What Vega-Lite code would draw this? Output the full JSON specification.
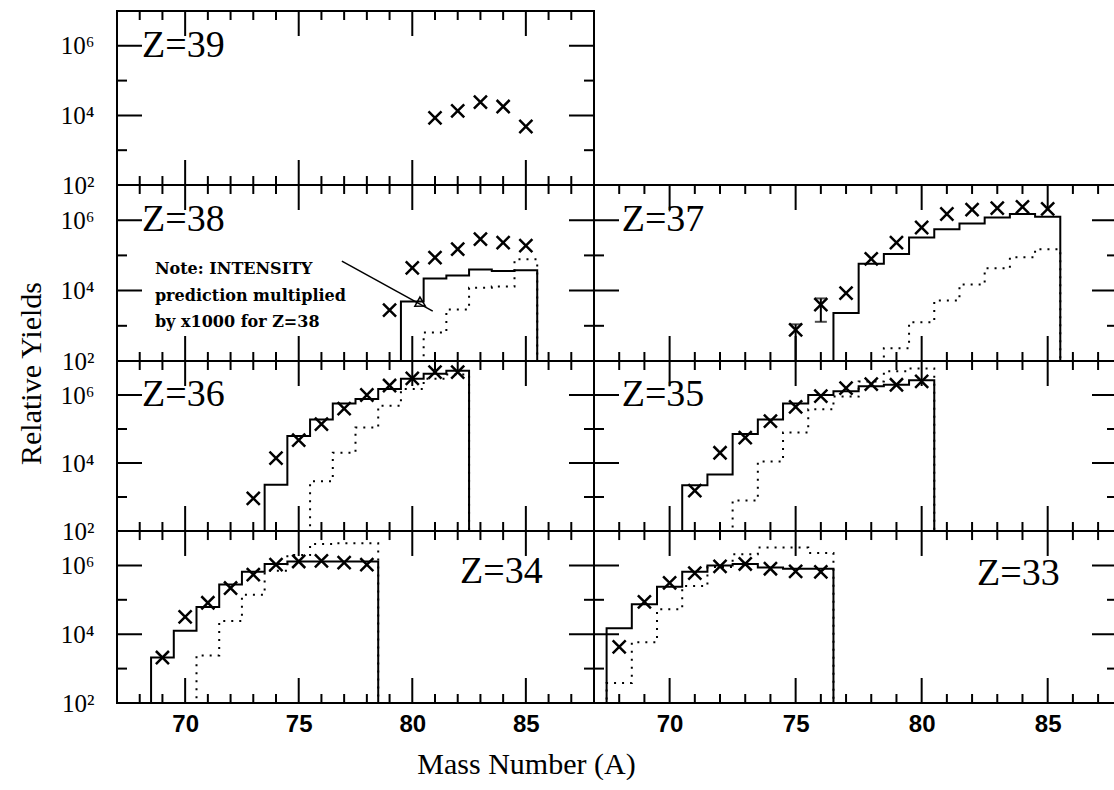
{
"$schema": "https://vega.github.io/schema/vega-lite/v6.json",
"usermeta": {"embedOptions": {"actions": false}},
"background": "white",
"padding": {"left": 15, "top": 9, "right": 0, "bottom": 0},
"config": {"view": {"stroke": "black", "strokeWidth": 2}, "concat": {"spacing": 0}, "font": "Liberation Serif",
 "axis": {"ticks": false, "grid": false, "domain": false, "title": null, "labelOverlap": false, "labelFlush": false, "labelColor": "black"}},
"datasets": {
"d": [
{"Z":39,"k":"exp","A":81,"y":8500},{"Z":39,"k":"exp","A":82,"y":13500},{"Z":39,"k":"exp","A":83,"y":24000},{"Z":39,"k":"exp","A":84,"y":18000},{"Z":39,"k":"exp","A":85,"y":4800},
{"Z":38,"k":"exp","A":79,"y":2800},{"Z":38,"k":"exp","A":80,"y":44000},{"Z":38,"k":"exp","A":81,"y":87000},{"Z":38,"k":"exp","A":82,"y":150000},{"Z":38,"k":"exp","A":83,"y":290000},{"Z":38,"k":"exp","A":84,"y":230000},{"Z":38,"k":"exp","A":85,"y":190000},
{"Z":38,"k":"solid","A":79,"y":100},{"Z":38,"k":"solid","A":80,"y":4900},{"Z":38,"k":"solid","A":81,"y":22000},{"Z":38,"k":"solid","A":82,"y":27000},{"Z":38,"k":"solid","A":83,"y":40000},{"Z":38,"k":"solid","A":84,"y":36000},{"Z":38,"k":"solid","A":85,"y":38000},{"Z":38,"k":"solid","A":86,"y":100},
{"Z":38,"k":"dot","A":80,"y":100},{"Z":38,"k":"dot","A":81,"y":640},{"Z":38,"k":"dot","A":82,"y":2900},{"Z":38,"k":"dot","A":83,"y":12000},{"Z":38,"k":"dot","A":84,"y":13000},{"Z":38,"k":"dot","A":85,"y":78000},{"Z":38,"k":"dot","A":86,"y":100},
{"Z":37,"k":"exp","A":75,"y":770},{"Z":37,"k":"exp","A":76,"y":4000},{"Z":37,"k":"exp","A":77,"y":8500},{"Z":37,"k":"exp","A":78,"y":80000},{"Z":37,"k":"exp","A":79,"y":230000},{"Z":37,"k":"exp","A":80,"y":620000},{"Z":37,"k":"exp","A":81,"y":1500000},{"Z":37,"k":"exp","A":82,"y":2000000},{"Z":37,"k":"exp","A":83,"y":2200000},{"Z":37,"k":"exp","A":84,"y":2400000},{"Z":37,"k":"exp","A":85,"y":2100000},
{"Z":37,"k":"solid","A":76,"y":100},{"Z":37,"k":"solid","A":77,"y":2300},{"Z":37,"k":"solid","A":78,"y":58000},{"Z":37,"k":"solid","A":79,"y":110000},{"Z":37,"k":"solid","A":80,"y":320000},{"Z":37,"k":"solid","A":81,"y":550000},{"Z":37,"k":"solid","A":82,"y":800000},{"Z":37,"k":"solid","A":83,"y":1200000},{"Z":37,"k":"solid","A":84,"y":1500000},{"Z":37,"k":"solid","A":85,"y":1260000},{"Z":37,"k":"solid","A":86,"y":100},
{"Z":37,"k":"dot","A":78,"y":100},{"Z":37,"k":"dot","A":79,"y":230},{"Z":37,"k":"dot","A":80,"y":1270},{"Z":37,"k":"dot","A":81,"y":5200},{"Z":37,"k":"dot","A":82,"y":15000},{"Z":37,"k":"dot","A":83,"y":43000},{"Z":37,"k":"dot","A":84,"y":89000},{"Z":37,"k":"dot","A":85,"y":150000},{"Z":37,"k":"dot","A":86,"y":100},
{"Z":36,"k":"exp","A":73,"y":910},{"Z":36,"k":"exp","A":74,"y":14000},{"Z":36,"k":"exp","A":75,"y":47000},{"Z":36,"k":"exp","A":76,"y":140000},{"Z":36,"k":"exp","A":77,"y":400000},{"Z":36,"k":"exp","A":78,"y":1000000},{"Z":36,"k":"exp","A":79,"y":1900000},{"Z":36,"k":"exp","A":80,"y":3100000},{"Z":36,"k":"exp","A":81,"y":4700000},{"Z":36,"k":"exp","A":82,"y":4700000},
{"Z":36,"k":"solid","A":73,"y":100},{"Z":36,"k":"solid","A":74,"y":2300},{"Z":36,"k":"solid","A":75,"y":62000},{"Z":36,"k":"solid","A":76,"y":190000},{"Z":36,"k":"solid","A":77,"y":560000},{"Z":36,"k":"solid","A":78,"y":760000},{"Z":36,"k":"solid","A":79,"y":1500000},{"Z":36,"k":"solid","A":80,"y":3000000},{"Z":36,"k":"solid","A":81,"y":4200000},{"Z":36,"k":"solid","A":82,"y":5200000},{"Z":36,"k":"solid","A":83,"y":100},
{"Z":36,"k":"dot","A":75,"y":100},{"Z":36,"k":"dot","A":76,"y":2900},{"Z":36,"k":"dot","A":77,"y":20000},{"Z":36,"k":"dot","A":78,"y":110000},{"Z":36,"k":"dot","A":79,"y":480000},{"Z":36,"k":"dot","A":80,"y":1500000},{"Z":36,"k":"dot","A":81,"y":3000000},{"Z":36,"k":"dot","A":82,"y":4000000},{"Z":36,"k":"dot","A":83,"y":100},
{"Z":35,"k":"exp","A":71,"y":1550},{"Z":35,"k":"exp","A":72,"y":20000},{"Z":35,"k":"exp","A":73,"y":56000},{"Z":35,"k":"exp","A":74,"y":170000},{"Z":35,"k":"exp","A":75,"y":450000},{"Z":35,"k":"exp","A":76,"y":930000},{"Z":35,"k":"exp","A":77,"y":1600000},{"Z":35,"k":"exp","A":78,"y":2100000},{"Z":35,"k":"exp","A":79,"y":2000000},{"Z":35,"k":"exp","A":80,"y":2500000},
{"Z":35,"k":"solid","A":70,"y":100},{"Z":35,"k":"solid","A":71,"y":2200},{"Z":35,"k":"solid","A":72,"y":4600},{"Z":35,"k":"solid","A":73,"y":71000},{"Z":35,"k":"solid","A":74,"y":190000},{"Z":35,"k":"solid","A":75,"y":560000},{"Z":35,"k":"solid","A":76,"y":1000000},{"Z":35,"k":"solid","A":77,"y":1300000},{"Z":35,"k":"solid","A":78,"y":1800000},{"Z":35,"k":"solid","A":79,"y":2000000},{"Z":35,"k":"solid","A":80,"y":2700000},{"Z":35,"k":"solid","A":81,"y":100},
{"Z":35,"k":"dot","A":72,"y":100},{"Z":35,"k":"dot","A":73,"y":790},{"Z":35,"k":"dot","A":74,"y":11000},{"Z":35,"k":"dot","A":75,"y":79000},{"Z":35,"k":"dot","A":76,"y":380000},{"Z":35,"k":"dot","A":77,"y":900000},{"Z":35,"k":"dot","A":78,"y":2500000},{"Z":35,"k":"dot","A":79,"y":5000000},{"Z":35,"k":"dot","A":80,"y":6000000},{"Z":35,"k":"dot","A":81,"y":100},
{"Z":34,"k":"exp","A":69,"y":2100},{"Z":34,"k":"exp","A":70,"y":32000},{"Z":34,"k":"exp","A":71,"y":82000},{"Z":34,"k":"exp","A":72,"y":220000},{"Z":34,"k":"exp","A":73,"y":540000},{"Z":34,"k":"exp","A":74,"y":1050000},{"Z":34,"k":"exp","A":75,"y":1300000},{"Z":34,"k":"exp","A":76,"y":1350000},{"Z":34,"k":"exp","A":77,"y":1200000},{"Z":34,"k":"exp","A":78,"y":1050000},
{"Z":34,"k":"solid","A":68,"y":100},{"Z":34,"k":"solid","A":69,"y":2100},{"Z":34,"k":"solid","A":70,"y":12500},{"Z":34,"k":"solid","A":71,"y":62000},{"Z":34,"k":"solid","A":72,"y":280000},{"Z":34,"k":"solid","A":73,"y":650000},{"Z":34,"k":"solid","A":74,"y":1100000},{"Z":34,"k":"solid","A":75,"y":1300000},{"Z":34,"k":"solid","A":76,"y":1300000},{"Z":34,"k":"solid","A":77,"y":1300000},{"Z":34,"k":"solid","A":78,"y":1300000},{"Z":34,"k":"solid","A":79,"y":100},
{"Z":34,"k":"dot","A":70,"y":100},{"Z":34,"k":"dot","A":71,"y":2400},{"Z":34,"k":"dot","A":72,"y":24000},{"Z":34,"k":"dot","A":73,"y":140000},{"Z":34,"k":"dot","A":74,"y":700000},{"Z":34,"k":"dot","A":75,"y":2000000},{"Z":34,"k":"dot","A":76,"y":4200000},{"Z":34,"k":"dot","A":77,"y":4400000},{"Z":34,"k":"dot","A":78,"y":4400000},{"Z":34,"k":"dot","A":79,"y":100},
{"Z":33,"k":"exp","A":68,"y":4300},{"Z":33,"k":"exp","A":69,"y":87000},{"Z":33,"k":"exp","A":70,"y":310000},{"Z":33,"k":"exp","A":71,"y":600000},{"Z":33,"k":"exp","A":72,"y":940000},{"Z":33,"k":"exp","A":73,"y":1100000},{"Z":33,"k":"exp","A":74,"y":800000},{"Z":33,"k":"exp","A":75,"y":670000},{"Z":33,"k":"exp","A":76,"y":650000},
{"Z":33,"k":"solid","A":67,"y":100},{"Z":33,"k":"solid","A":68,"y":15000},{"Z":33,"k":"solid","A":69,"y":74000},{"Z":33,"k":"solid","A":70,"y":240000},{"Z":33,"k":"solid","A":71,"y":650000},{"Z":33,"k":"solid","A":72,"y":1000000},{"Z":33,"k":"solid","A":73,"y":1100000},{"Z":33,"k":"solid","A":74,"y":870000},{"Z":33,"k":"solid","A":75,"y":800000},{"Z":33,"k":"solid","A":76,"y":800000},{"Z":33,"k":"solid","A":77,"y":100},
{"Z":33,"k":"dot","A":67,"y":100},{"Z":33,"k":"dot","A":68,"y":380},{"Z":33,"k":"dot","A":69,"y":5800},{"Z":33,"k":"dot","A":70,"y":53000},{"Z":33,"k":"dot","A":71,"y":250000},{"Z":33,"k":"dot","A":72,"y":900000},{"Z":33,"k":"dot","A":73,"y":2100000},{"Z":33,"k":"dot","A":74,"y":3300000},{"Z":33,"k":"dot","A":75,"y":3300000},{"Z":33,"k":"dot","A":76,"y":2300000},{"Z":33,"k":"dot","A":77,"y":100}
],
"n": [
{"Z":39,"k":"z","A":68.1,"y":1000000,"t":"Z=39"},
{"Z":38,"k":"z","A":68.1,"y":1000000,"t":"Z=38"},
{"Z":37,"k":"z","A":68.1,"y":1000000,"t":"Z=37"},
{"Z":36,"k":"z","A":68.1,"y":1000000,"t":"Z=36"},
{"Z":35,"k":"z","A":68.1,"y":1000000,"t":"Z=35"},
{"Z":34,"k":"z","A":82.1,"y":630000,"t":"Z=34"},
{"Z":33,"k":"z","A":82.2,"y":560000,"t":"Z=33"},
{"Z":38,"k":"note","A":68.67,"y":41000,"t":"Note: INTENSITY"},
{"Z":38,"k":"note","A":68.67,"y":7100,"t":"prediction multiplied"},
{"Z":38,"k":"note","A":68.67,"y":1290,"t":"by x1000 for Z=38"}
],
"xt": [{"A":68,"m":0},{"A":69,"m":0},{"A":70,"m":1},{"A":71,"m":0},{"A":72,"m":0},{"A":73,"m":0},{"A":74,"m":0},{"A":75,"m":1},{"A":76,"m":0},{"A":77,"m":0},{"A":78,"m":0},{"A":79,"m":0},{"A":80,"m":1},{"A":81,"m":0},{"A":82,"m":0},{"A":83,"m":0},{"A":84,"m":0},{"A":85,"m":1},{"A":86,"m":0},{"A":87,"m":0}],
"yt": [{"y":1000,"m":0},{"y":10000,"m":1},{"y":100000,"m":0},{"y":1000000,"m":1}],
"ar": [{"A":76.9,"y":69000,"A2":80.9,"y2":2600}],
"ah": [{"A":80.4,"y":4200}],
"err": [{"Z":37,"A":75,"lo":100,"hi":1100},{"Z":37,"A":76,"lo":1300,"hi":6000}]
},
"columns": 2,
"spacing": 0,
"bounds": "flush",
"concat": [
 {"width": 477, "height": 174,
  "layer": [
   {"data":{"name":"d"},"transform":[{"filter":"datum.Z==39 && datum.k=='exp'"}],
    "mark":{"type":"point","shape":"M-1,-1L1,1M-1,1L1,-1","filled":false,"stroke":"black","strokeWidth":2.5,"size":170,"opacity":1},
    "encoding":{
     "x":{"field":"A","type":"quantitative","scale":{"domain":[67,88],"nice":false,"zero":false},"axis":null},
     "y":{"field":"y","type":"quantitative","scale":{"type":"log","domain":[100,10000000],"nice":false},"axis":{"orient":"left","values":[100,10000,1000000],"labelExpr":"datum.value == 100 ? '10²' : datum.value == 10000 ? '10⁴' : '10⁶'","labelFont":"Liberation Serif","labelFontSize":25,"labelPadding":23,"labelBaseline":"middle"}}}},
   {"data":{"name":"n"},"transform":[{"filter":"datum.Z==39 && datum.k=='z'"}],
    "mark":{"type":"text","align":"left","baseline":"middle","font":"Liberation Serif","fontSize":38,"color":"black"},
    "encoding":{"x":{"field":"A","type":"quantitative"},"y":{"field":"y","type":"quantitative"},"text":{"field":"t"}}},
   {"data":{"name":"xt"},"transform":[{"filter":"datum.m==1"}],"mark":{"type":"rule","color":"black","strokeWidth":2},
    "encoding":{"x":{"field":"A","type":"quantitative"},"y":{"datum":100},"y2":{"datum":523}}},
   {"data":{"name":"xt"},"transform":[{"filter":"datum.m==0"}],"mark":{"type":"rule","color":"black","strokeWidth":2},
    "encoding":{"x":{"field":"A","type":"quantitative"},"y":{"datum":100},"y2":{"datum":181}}},
   {"data":{"name":"xt"},"transform":[{"filter":"datum.m==1"}],"mark":{"type":"rule","color":"black","strokeWidth":2},
    "encoding":{"x":{"field":"A","type":"quantitative"},"y":{"datum":10000000},"y2":{"datum":1910000}}},
   {"data":{"name":"xt"},"transform":[{"filter":"datum.m==0"}],"mark":{"type":"rule","color":"black","strokeWidth":2},
    "encoding":{"x":{"field":"A","type":"quantitative"},"y":{"datum":10000000},"y2":{"datum":5510000}}},
   {"data":{"name":"yt"},"mark":{"type":"tick","orient":"horizontal","clip":true,"color":"black","thickness":2,"opacity":1},
    "encoding":{"x":{"datum":67},"y":{"field":"y","type":"quantitative"},"size":{"condition":{"test":"datum.m == 1","value":50},"value":20}}},
   {"data":{"name":"yt"},"mark":{"type":"tick","orient":"horizontal","clip":true,"color":"black","thickness":2,"opacity":1},
    "encoding":{"x":{"datum":88},"y":{"field":"y","type":"quantitative"},"size":{"condition":{"test":"datum.m == 1","value":50},"value":20}}}
  ]},
 {"width": 523, "height": 174, "view": {"stroke": null},
  "data": {"values": [{}]},
  "mark": {"type": "text", "text": ""},
  "encoding": {}},
 {"width": 477, "height": 176,
  "layer": [
   {"data":{"name":"d"},"transform":[{"filter":"datum.Z==38 && datum.k=='solid'"}],
    "mark":{"type":"line","interpolate":"step","color":"black","strokeWidth":2},
    "encoding":{
     "x":{"field":"A","type":"quantitative","scale":{"domain":[67,88],"nice":false,"zero":false},"axis":null},
     "y":{"field":"y","type":"quantitative","scale":{"type":"log","domain":[100,10000000],"nice":false},"axis":{"orient":"left","values":[100,10000,1000000],"labelExpr":"datum.value == 100 ? '10²' : datum.value == 10000 ? '10⁴' : '10⁶'","labelFont":"Liberation Serif","labelFontSize":25,"labelPadding":23,"labelBaseline":"middle",
       "title":"Relative Yields","titleFont":"Liberation Serif","titleFontSize":30,"titleFontWeight":"normal","titleColor":"black","titleX":-86,"titleY":188,"titleAngle":270,"titleAlign":"center","titleBaseline":"middle"}}}},
   {"data":{"name":"d"},"transform":[{"filter":"datum.Z==38 && datum.k=='dot'"}],
    "mark":{"type":"line","interpolate":"step","color":"black","strokeWidth":2,"strokeDash":[2,6]},
    "encoding":{"x":{"field":"A","type":"quantitative"},"y":{"field":"y","type":"quantitative"}}},
   {"data":{"name":"d"},"transform":[{"filter":"datum.Z==38 && datum.k=='exp'"}],
    "mark":{"type":"point","shape":"M-1,-1L1,1M-1,1L1,-1","filled":false,"stroke":"black","strokeWidth":2.5,"size":170,"opacity":1},
    "encoding":{"x":{"field":"A","type":"quantitative"},"y":{"field":"y","type":"quantitative"}}},
   {"data":{"name":"n"},"transform":[{"filter":"datum.Z==38 && datum.k=='z'"}],
    "mark":{"type":"text","align":"left","baseline":"middle","font":"Liberation Serif","fontSize":38,"color":"black"},
    "encoding":{"x":{"field":"A","type":"quantitative"},"y":{"field":"y","type":"quantitative"},"text":{"field":"t"}}},
   {"data":{"name":"n"},"transform":[{"filter":"datum.Z==38 && datum.k=='note'"}],
    "mark":{"type":"text","align":"left","baseline":"middle","font":"DejaVu Serif","fontSize":16,"fontWeight":"bold","color":"black"},
    "encoding":{"x":{"field":"A","type":"quantitative"},"y":{"field":"y","type":"quantitative"},"text":{"field":"t"}}},
   {"data":{"name":"ar"},
    "mark":{"type":"rule","color":"black","strokeWidth":1.5},
    "encoding":{"x":{"field":"A","type":"quantitative"},"y":{"field":"y","type":"quantitative"},"x2":{"field":"A2"},"y2":{"field":"y2"}}},
   {"data":{"name":"ah"},
    "mark":{"type":"point","shape":"triangle-right","filled":false,"stroke":"black","strokeWidth":1.5,"size":110,"angle":29,"opacity":1},
    "encoding":{"x":{"field":"A","type":"quantitative"},"y":{"field":"y","type":"quantitative"}}},
   {"data":{"name":"xt"},"transform":[{"filter":"datum.m==1"}],"mark":{"type":"rule","color":"black","strokeWidth":2},
    "encoding":{"x":{"field":"A","type":"quantitative"},"y":{"datum":100},"y2":{"datum":513}}},
   {"data":{"name":"xt"},"transform":[{"filter":"datum.m==0"}],"mark":{"type":"rule","color":"black","strokeWidth":2},
    "encoding":{"x":{"field":"A","type":"quantitative"},"y":{"datum":100},"y2":{"datum":180}}},
   {"data":{"name":"xt"},"transform":[{"filter":"datum.m==1"}],"mark":{"type":"rule","color":"black","strokeWidth":2},
    "encoding":{"x":{"field":"A","type":"quantitative"},"y":{"datum":10000000},"y2":{"datum":1950000}}},
   {"data":{"name":"xt"},"transform":[{"filter":"datum.m==0"}],"mark":{"type":"rule","color":"black","strokeWidth":2},
    "encoding":{"x":{"field":"A","type":"quantitative"},"y":{"datum":10000000},"y2":{"datum":5560000}}},
   {"data":{"name":"yt"},"mark":{"type":"tick","orient":"horizontal","clip":true,"color":"black","thickness":2,"opacity":1},
    "encoding":{"x":{"datum":67},"y":{"field":"y","type":"quantitative"},"size":{"condition":{"test":"datum.m == 1","value":50},"value":20}}},
   {"data":{"name":"yt"},"mark":{"type":"tick","orient":"horizontal","clip":true,"color":"black","thickness":2,"opacity":1},
    "encoding":{"x":{"datum":88},"y":{"field":"y","type":"quantitative"},"size":{"condition":{"test":"datum.m == 1","value":50},"value":20}}}
  ]},
 {"width": 523, "height": 176,
  "layer": [
   {"data":{"name":"d"},"transform":[{"filter":"datum.Z==37 && datum.k=='solid'"}],
    "mark":{"type":"line","interpolate":"step","color":"black","strokeWidth":2},
    "encoding":{
     "x":{"field":"A","type":"quantitative","scale":{"domain":[67,87.75],"nice":false,"zero":false},"axis":null},
     "y":{"field":"y","type":"quantitative","scale":{"type":"log","domain":[100,10000000],"nice":false},"axis":null}}},
   {"data":{"name":"d"},"transform":[{"filter":"datum.Z==37 && datum.k=='dot'"}],
    "mark":{"type":"line","interpolate":"step","color":"black","strokeWidth":2,"strokeDash":[2,6]},
    "encoding":{"x":{"field":"A","type":"quantitative"},"y":{"field":"y","type":"quantitative"}}},
   {"data":{"name":"err"},"transform":[{"filter":"datum.Z==37"}],
    "mark":{"type":"errorbar","ticks":true,"thickness":2,"size":12,"color":"black"},
    "encoding":{"x":{"field":"A","type":"quantitative"},"y":{"field":"lo","type":"quantitative"},"y2":{"field":"hi"}}},
   {"data":{"name":"d"},"transform":[{"filter":"datum.Z==37 && datum.k=='exp'"}],
    "mark":{"type":"point","shape":"M-1,-1L1,1M-1,1L1,-1","filled":false,"stroke":"black","strokeWidth":2.5,"size":170,"opacity":1},
    "encoding":{"x":{"field":"A","type":"quantitative"},"y":{"field":"y","type":"quantitative"}}},
   {"data":{"name":"n"},"transform":[{"filter":"datum.Z==37 && datum.k=='z'"}],
    "mark":{"type":"text","align":"left","baseline":"middle","font":"Liberation Serif","fontSize":38,"color":"black"},
    "encoding":{"x":{"field":"A","type":"quantitative"},"y":{"field":"y","type":"quantitative"},"text":{"field":"t"}}},
   {"data":{"name":"xt"},"transform":[{"filter":"datum.m==1"}],"mark":{"type":"rule","color":"black","strokeWidth":2},
    "encoding":{"x":{"field":"A","type":"quantitative"},"y":{"datum":100},"y2":{"datum":513}}},
   {"data":{"name":"xt"},"transform":[{"filter":"datum.m==0"}],"mark":{"type":"rule","color":"black","strokeWidth":2},
    "encoding":{"x":{"field":"A","type":"quantitative"},"y":{"datum":100},"y2":{"datum":180}}},
   {"data":{"name":"xt"},"transform":[{"filter":"datum.m==1"}],"mark":{"type":"rule","color":"black","strokeWidth":2},
    "encoding":{"x":{"field":"A","type":"quantitative"},"y":{"datum":10000000},"y2":{"datum":1950000}}},
   {"data":{"name":"xt"},"transform":[{"filter":"datum.m==0"}],"mark":{"type":"rule","color":"black","strokeWidth":2},
    "encoding":{"x":{"field":"A","type":"quantitative"},"y":{"datum":10000000},"y2":{"datum":5560000}}},
   {"data":{"name":"yt"},"mark":{"type":"tick","orient":"horizontal","clip":true,"color":"black","thickness":2,"opacity":1},
    "encoding":{"x":{"datum":67},"y":{"field":"y","type":"quantitative"},"size":{"condition":{"test":"datum.m == 1","value":50},"value":20}}},
   {"data":{"name":"yt"},"mark":{"type":"tick","orient":"horizontal","clip":true,"color":"black","thickness":2,"opacity":1},
    "encoding":{"x":{"datum":87.75},"y":{"field":"y","type":"quantitative"},"size":{"condition":{"test":"datum.m == 1","value":50},"value":20}}}
  ]},
 {"width": 477, "height": 170,
  "layer": [
   {"data":{"name":"d"},"transform":[{"filter":"datum.Z==36 && datum.k=='solid'"}],
    "mark":{"type":"line","interpolate":"step","color":"black","strokeWidth":2},
    "encoding":{
     "x":{"field":"A","type":"quantitative","scale":{"domain":[67,88],"nice":false,"zero":false},"axis":null},
     "y":{"field":"y","type":"quantitative","scale":{"type":"log","domain":[100,10000000],"nice":false},"axis":{"orient":"left","values":[100,10000,1000000],"labelExpr":"datum.value == 100 ? '10²' : datum.value == 10000 ? '10⁴' : '10⁶'","labelFont":"Liberation Serif","labelFontSize":25,"labelPadding":23,"labelBaseline":"middle"}}}},
   {"data":{"name":"d"},"transform":[{"filter":"datum.Z==36 && datum.k=='dot'"}],
    "mark":{"type":"line","interpolate":"step","color":"black","strokeWidth":2,"strokeDash":[2,6]},
    "encoding":{"x":{"field":"A","type":"quantitative"},"y":{"field":"y","type":"quantitative"}}},
   {"data":{"name":"d"},"transform":[{"filter":"datum.Z==36 && datum.k=='exp'"}],
    "mark":{"type":"point","shape":"M-1,-1L1,1M-1,1L1,-1","filled":false,"stroke":"black","strokeWidth":2.5,"size":170,"opacity":1},
    "encoding":{"x":{"field":"A","type":"quantitative"},"y":{"field":"y","type":"quantitative"}}},
   {"data":{"name":"n"},"transform":[{"filter":"datum.Z==36 && datum.k=='z'"}],
    "mark":{"type":"text","align":"left","baseline":"middle","font":"Liberation Serif","fontSize":38,"color":"black"},
    "encoding":{"x":{"field":"A","type":"quantitative"},"y":{"field":"y","type":"quantitative"},"text":{"field":"t"}}},
   {"data":{"name":"xt"},"transform":[{"filter":"datum.m==1"}],"mark":{"type":"rule","color":"black","strokeWidth":2},
    "encoding":{"x":{"field":"A","type":"quantitative"},"y":{"datum":100},"y2":{"datum":544}}},
   {"data":{"name":"xt"},"transform":[{"filter":"datum.m==0"}],"mark":{"type":"rule","color":"black","strokeWidth":2},
    "encoding":{"x":{"field":"A","type":"quantitative"},"y":{"datum":100},"y2":{"datum":184}}},
   {"data":{"name":"xt"},"transform":[{"filter":"datum.m==1"}],"mark":{"type":"rule","color":"black","strokeWidth":2},
    "encoding":{"x":{"field":"A","type":"quantitative"},"y":{"datum":10000000},"y2":{"datum":1840000}}},
   {"data":{"name":"xt"},"transform":[{"filter":"datum.m==0"}],"mark":{"type":"rule","color":"black","strokeWidth":2},
    "encoding":{"x":{"field":"A","type":"quantitative"},"y":{"datum":10000000},"y2":{"datum":5430000}}},
   {"data":{"name":"yt"},"mark":{"type":"tick","orient":"horizontal","clip":true,"color":"black","thickness":2,"opacity":1},
    "encoding":{"x":{"datum":67},"y":{"field":"y","type":"quantitative"},"size":{"condition":{"test":"datum.m == 1","value":50},"value":20}}},
   {"data":{"name":"yt"},"mark":{"type":"tick","orient":"horizontal","clip":true,"color":"black","thickness":2,"opacity":1},
    "encoding":{"x":{"datum":88},"y":{"field":"y","type":"quantitative"},"size":{"condition":{"test":"datum.m == 1","value":50},"value":20}}}
  ]},
 {"width": 523, "height": 170,
  "layer": [
   {"data":{"name":"d"},"transform":[{"filter":"datum.Z==35 && datum.k=='solid'"}],
    "mark":{"type":"line","interpolate":"step","color":"black","strokeWidth":2},
    "encoding":{
     "x":{"field":"A","type":"quantitative","scale":{"domain":[67,87.75],"nice":false,"zero":false},"axis":null},
     "y":{"field":"y","type":"quantitative","scale":{"type":"log","domain":[100,10000000],"nice":false},"axis":null}}},
   {"data":{"name":"d"},"transform":[{"filter":"datum.Z==35 && datum.k=='dot'"}],
    "mark":{"type":"line","interpolate":"step","color":"black","strokeWidth":2,"strokeDash":[2,6]},
    "encoding":{"x":{"field":"A","type":"quantitative"},"y":{"field":"y","type":"quantitative"}}},
   {"data":{"name":"d"},"transform":[{"filter":"datum.Z==35 && datum.k=='exp'"}],
    "mark":{"type":"point","shape":"M-1,-1L1,1M-1,1L1,-1","filled":false,"stroke":"black","strokeWidth":2.5,"size":170,"opacity":1},
    "encoding":{"x":{"field":"A","type":"quantitative"},"y":{"field":"y","type":"quantitative"}}},
   {"data":{"name":"n"},"transform":[{"filter":"datum.Z==35 && datum.k=='z'"}],
    "mark":{"type":"text","align":"left","baseline":"middle","font":"Liberation Serif","fontSize":38,"color":"black"},
    "encoding":{"x":{"field":"A","type":"quantitative"},"y":{"field":"y","type":"quantitative"},"text":{"field":"t"}}},
   {"data":{"name":"xt"},"transform":[{"filter":"datum.m==1"}],"mark":{"type":"rule","color":"black","strokeWidth":2},
    "encoding":{"x":{"field":"A","type":"quantitative"},"y":{"datum":100},"y2":{"datum":544}}},
   {"data":{"name":"xt"},"transform":[{"filter":"datum.m==0"}],"mark":{"type":"rule","color":"black","strokeWidth":2},
    "encoding":{"x":{"field":"A","type":"quantitative"},"y":{"datum":100},"y2":{"datum":184}}},
   {"data":{"name":"xt"},"transform":[{"filter":"datum.m==1"}],"mark":{"type":"rule","color":"black","strokeWidth":2},
    "encoding":{"x":{"field":"A","type":"quantitative"},"y":{"datum":10000000},"y2":{"datum":1840000}}},
   {"data":{"name":"xt"},"transform":[{"filter":"datum.m==0"}],"mark":{"type":"rule","color":"black","strokeWidth":2},
    "encoding":{"x":{"field":"A","type":"quantitative"},"y":{"datum":10000000},"y2":{"datum":5430000}}},
   {"data":{"name":"yt"},"mark":{"type":"tick","orient":"horizontal","clip":true,"color":"black","thickness":2,"opacity":1},
    "encoding":{"x":{"datum":67},"y":{"field":"y","type":"quantitative"},"size":{"condition":{"test":"datum.m == 1","value":50},"value":20}}},
   {"data":{"name":"yt"},"mark":{"type":"tick","orient":"horizontal","clip":true,"color":"black","thickness":2,"opacity":1},
    "encoding":{"x":{"datum":87.75},"y":{"field":"y","type":"quantitative"},"size":{"condition":{"test":"datum.m == 1","value":50},"value":20}}}
  ]},
 {"width": 477, "height": 172,
  "layer": [
   {"data":{"name":"d"},"transform":[{"filter":"datum.Z==34 && datum.k=='solid'"}],
    "mark":{"type":"line","interpolate":"step","color":"black","strokeWidth":2},
    "encoding":{
     "x":{"field":"A","type":"quantitative","scale":{"domain":[67,88],"nice":false,"zero":false},"axis":{"orient":"bottom","values":[70,75,80,85],"labelFont":"Liberation Sans","labelFontSize":24,"labelFontWeight":"bold","labelPadding":9,
       "title":"Mass Number (A)","titleFont":"Liberation Serif","titleFontSize":30,"titleFontWeight":"normal","titleColor":"black","titleX":409,"titleY":61,"titleAlign":"center","titleBaseline":"middle","titleAngle":0}},
     "y":{"field":"y","type":"quantitative","scale":{"type":"log","domain":[100,10000000],"nice":false},"axis":{"orient":"left","values":[100,10000,1000000],"labelExpr":"datum.value == 100 ? '10²' : datum.value == 10000 ? '10⁴' : '10⁶'","labelFont":"Liberation Serif","labelFontSize":25,"labelPadding":23,"labelBaseline":"middle"}}}},
   {"data":{"name":"d"},"transform":[{"filter":"datum.Z==34 && datum.k=='dot'"}],
    "mark":{"type":"line","interpolate":"step","color":"black","strokeWidth":2,"strokeDash":[2,6]},
    "encoding":{"x":{"field":"A","type":"quantitative"},"y":{"field":"y","type":"quantitative"}}},
   {"data":{"name":"d"},"transform":[{"filter":"datum.Z==34 && datum.k=='exp'"}],
    "mark":{"type":"point","shape":"M-1,-1L1,1M-1,1L1,-1","filled":false,"stroke":"black","strokeWidth":2.5,"size":170,"opacity":1},
    "encoding":{"x":{"field":"A","type":"quantitative"},"y":{"field":"y","type":"quantitative"}}},
   {"data":{"name":"n"},"transform":[{"filter":"datum.Z==34 && datum.k=='z'"}],
    "mark":{"type":"text","align":"left","baseline":"middle","font":"Liberation Serif","fontSize":38,"color":"black"},
    "encoding":{"x":{"field":"A","type":"quantitative"},"y":{"field":"y","type":"quantitative"},"text":{"field":"t"}}},
   {"data":{"name":"xt"},"transform":[{"filter":"datum.m==1"}],"mark":{"type":"rule","color":"black","strokeWidth":2},
    "encoding":{"x":{"field":"A","type":"quantitative"},"y":{"datum":100},"y2":{"datum":533}}},
   {"data":{"name":"xt"},"transform":[{"filter":"datum.m==0"}],"mark":{"type":"rule","color":"black","strokeWidth":2},
    "encoding":{"x":{"field":"A","type":"quantitative"},"y":{"datum":100},"y2":{"datum":183}}},
   {"data":{"name":"xt"},"transform":[{"filter":"datum.m==1"}],"mark":{"type":"rule","color":"black","strokeWidth":2},
    "encoding":{"x":{"field":"A","type":"quantitative"},"y":{"datum":10000000},"y2":{"datum":1880000}}},
   {"data":{"name":"xt"},"transform":[{"filter":"datum.m==0"}],"mark":{"type":"rule","color":"black","strokeWidth":2},
    "encoding":{"x":{"field":"A","type":"quantitative"},"y":{"datum":10000000},"y2":{"datum":5460000}}},
   {"data":{"name":"yt"},"mark":{"type":"tick","orient":"horizontal","clip":true,"color":"black","thickness":2,"opacity":1},
    "encoding":{"x":{"datum":67},"y":{"field":"y","type":"quantitative"},"size":{"condition":{"test":"datum.m == 1","value":50},"value":20}}},
   {"data":{"name":"yt"},"mark":{"type":"tick","orient":"horizontal","clip":true,"color":"black","thickness":2,"opacity":1},
    "encoding":{"x":{"datum":88},"y":{"field":"y","type":"quantitative"},"size":{"condition":{"test":"datum.m == 1","value":50},"value":20}}}
  ]},
 {"width": 523, "height": 172,
  "layer": [
   {"data":{"name":"d"},"transform":[{"filter":"datum.Z==33 && datum.k=='solid'"}],
    "mark":{"type":"line","interpolate":"step","color":"black","strokeWidth":2},
    "encoding":{
     "x":{"field":"A","type":"quantitative","scale":{"domain":[67,87.75],"nice":false,"zero":false},"axis":{"orient":"bottom","values":[70,75,80,85],"labelFont":"Liberation Sans","labelFontSize":24,"labelFontWeight":"bold","labelPadding":9}},
     "y":{"field":"y","type":"quantitative","scale":{"type":"log","domain":[100,10000000],"nice":false},"axis":null}}},
   {"data":{"name":"d"},"transform":[{"filter":"datum.Z==33 && datum.k=='dot'"}],
    "mark":{"type":"line","interpolate":"step","color":"black","strokeWidth":2,"strokeDash":[2,6]},
    "encoding":{"x":{"field":"A","type":"quantitative"},"y":{"field":"y","type":"quantitative"}}},
   {"data":{"name":"d"},"transform":[{"filter":"datum.Z==33 && datum.k=='exp'"}],
    "mark":{"type":"point","shape":"M-1,-1L1,1M-1,1L1,-1","filled":false,"stroke":"black","strokeWidth":2.5,"size":170,"opacity":1},
    "encoding":{"x":{"field":"A","type":"quantitative"},"y":{"field":"y","type":"quantitative"}}},
   {"data":{"name":"n"},"transform":[{"filter":"datum.Z==33 && datum.k=='z'"}],
    "mark":{"type":"text","align":"left","baseline":"middle","font":"Liberation Serif","fontSize":38,"color":"black"},
    "encoding":{"x":{"field":"A","type":"quantitative"},"y":{"field":"y","type":"quantitative"},"text":{"field":"t"}}},
   {"data":{"name":"xt"},"transform":[{"filter":"datum.m==1"}],"mark":{"type":"rule","color":"black","strokeWidth":2},
    "encoding":{"x":{"field":"A","type":"quantitative"},"y":{"datum":100},"y2":{"datum":533}}},
   {"data":{"name":"xt"},"transform":[{"filter":"datum.m==0"}],"mark":{"type":"rule","color":"black","strokeWidth":2},
    "encoding":{"x":{"field":"A","type":"quantitative"},"y":{"datum":100},"y2":{"datum":183}}},
   {"data":{"name":"xt"},"transform":[{"filter":"datum.m==1"}],"mark":{"type":"rule","color":"black","strokeWidth":2},
    "encoding":{"x":{"field":"A","type":"quantitative"},"y":{"datum":10000000},"y2":{"datum":1880000}}},
   {"data":{"name":"xt"},"transform":[{"filter":"datum.m==0"}],"mark":{"type":"rule","color":"black","strokeWidth":2},
    "encoding":{"x":{"field":"A","type":"quantitative"},"y":{"datum":10000000},"y2":{"datum":5460000}}},
   {"data":{"name":"yt"},"mark":{"type":"tick","orient":"horizontal","clip":true,"color":"black","thickness":2,"opacity":1},
    "encoding":{"x":{"datum":67},"y":{"field":"y","type":"quantitative"},"size":{"condition":{"test":"datum.m == 1","value":50},"value":20}}},
   {"data":{"name":"yt"},"mark":{"type":"tick","orient":"horizontal","clip":true,"color":"black","thickness":2,"opacity":1},
    "encoding":{"x":{"datum":87.75},"y":{"field":"y","type":"quantitative"},"size":{"condition":{"test":"datum.m == 1","value":50},"value":20}}}
  ]}
]
}
